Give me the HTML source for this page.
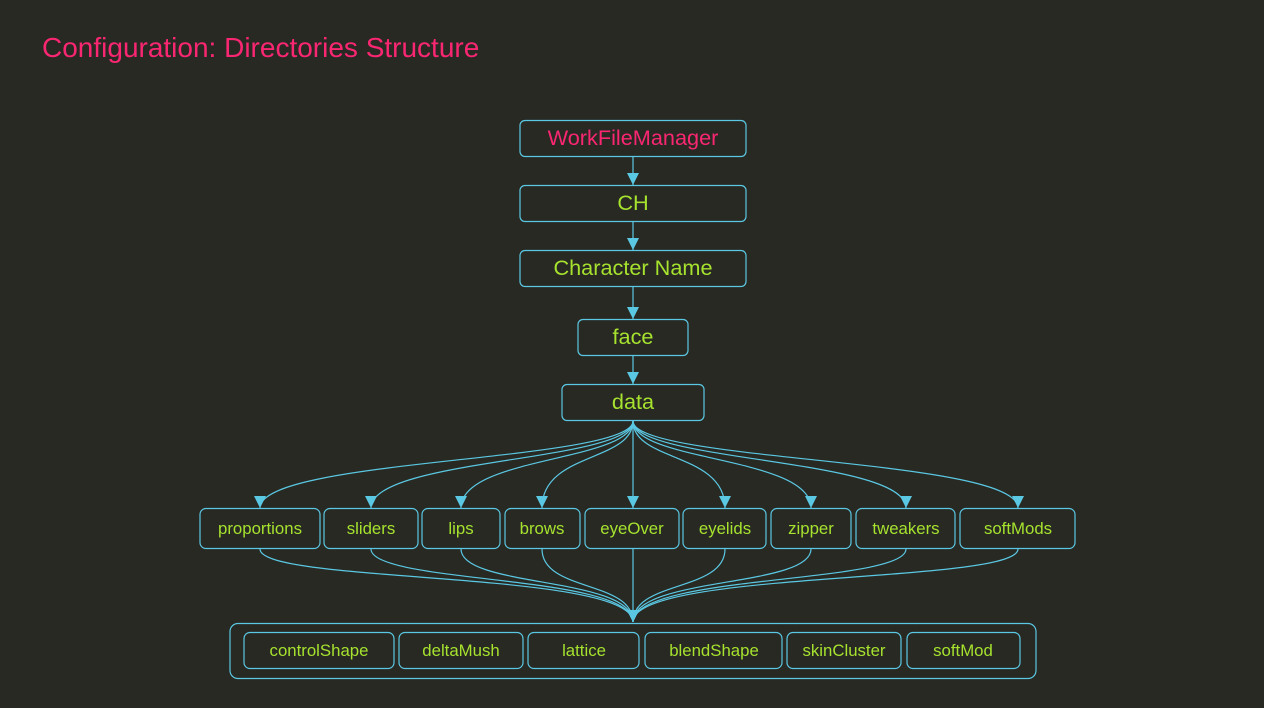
<!DOCTYPE html>
<html><head><meta charset="utf-8"><style>
html,body{margin:0;padding:0;background:#282923;}
svg{display:block;}
text{font-family:"Liberation Sans",sans-serif;}
</style></head><body>
<svg width="1264" height="708" viewBox="0 0 1264 708" xmlns="http://www.w3.org/2000/svg">
<defs>
<marker id="a" viewBox="0 0 12 12" refX="12" refY="6" markerWidth="12" markerHeight="12" markerUnits="userSpaceOnUse" orient="auto">
<path d="M0,0 L12,6 L0,12 z" fill="#5bc8e3"/></marker>
</defs>
<rect width="1264" height="708" fill="#282923"/>
<text x="42" y="57" font-size="28" fill="#f92672">Configuration: Directories Structure</text>
<g fill="none" stroke="#5bc8e3" stroke-width="1.2">
<rect x="520" y="120.5" width="226" height="36" rx="5"/>
<rect x="520" y="185.5" width="226" height="36" rx="5"/>
<rect x="520" y="250.5" width="226" height="36" rx="5"/>
<rect x="578" y="319.5" width="110" height="36" rx="5"/>
<rect x="562" y="384.5" width="142" height="36" rx="5"/>
<rect x="200" y="508.5" width="120" height="40" rx="6"/>
<rect x="324" y="508.5" width="94" height="40" rx="6"/>
<rect x="422" y="508.5" width="78" height="40" rx="6"/>
<rect x="505" y="508.5" width="75" height="40" rx="6"/>
<rect x="585" y="508.5" width="94" height="40" rx="6"/>
<rect x="683" y="508.5" width="83" height="40" rx="6"/>
<rect x="771" y="508.5" width="80" height="40" rx="6"/>
<rect x="856" y="508.5" width="99" height="40" rx="6"/>
<rect x="960" y="508.5" width="115" height="40" rx="6"/>
<rect x="230" y="623.5" width="806" height="55" rx="8"/>
<rect x="244" y="632.5" width="150" height="36" rx="6"/>
<rect x="399" y="632.5" width="124" height="36" rx="6"/>
<rect x="528" y="632.5" width="111" height="36" rx="6"/>
<rect x="645" y="632.5" width="137" height="36" rx="6"/>
<rect x="787" y="632.5" width="114" height="36" rx="6"/>
<rect x="907" y="632.5" width="113" height="36" rx="6"/>
<path d="M633,157 V185" marker-end="url(#a)"/>
<path d="M633,222 V250" marker-end="url(#a)"/>
<path d="M633,287 V319" marker-end="url(#a)"/>
<path d="M633,356 V384" marker-end="url(#a)"/>
<path d="M633,421 C633,462 260,458 260,508" marker-end="url(#a)"/>
<path d="M633,421 C633,462 371,458 371,508" marker-end="url(#a)"/>
<path d="M633,421 C633,462 461,456 461,508" marker-end="url(#a)"/>
<path d="M633,421 C633,462 542,452 542,508" marker-end="url(#a)"/>
<path d="M633,421 V508" marker-end="url(#a)"/>
<path d="M633,421 C633,462 725,452 725,508" marker-end="url(#a)"/>
<path d="M633,421 C633,462 811,456 811,508" marker-end="url(#a)"/>
<path d="M633,421 C633,462 906,458 906,508" marker-end="url(#a)"/>
<path d="M633,421 C633,462 1018,458 1018,508" marker-end="url(#a)"/>
<path d="M260,549 C260,584 633,570 633,622" marker-end="url(#a)"/>
<path d="M371,549 C371,584 633,574 633,622" marker-end="url(#a)"/>
<path d="M461,549 C461,588 633,576 633,622" marker-end="url(#a)"/>
<path d="M542,549 C542,592 633,580 633,622" marker-end="url(#a)"/>
<path d="M633,549 V622" marker-end="url(#a)"/>
<path d="M725,549 C725,592 633,580 633,622" marker-end="url(#a)"/>
<path d="M811,549 C811,588 633,576 633,622" marker-end="url(#a)"/>
<path d="M906,549 C906,584 633,574 633,622" marker-end="url(#a)"/>
<path d="M1018,549 C1018,584 633,570 633,622" marker-end="url(#a)"/>
</g>
<g font-size="21.7" fill="#a6e22e" text-anchor="middle">
<text x="633" y="145" fill="#f92672">WorkFileManager</text>
<text x="633" y="210">CH</text>
<text x="633" y="275">Character Name</text>
<text x="633" y="344">face</text>
<text x="633" y="409">data</text>
</g>
<g font-size="16.8" fill="#a6e22e" text-anchor="middle">
<text x="260" y="534">proportions</text>
<text x="371" y="534">sliders</text>
<text x="461" y="534">lips</text>
<text x="542" y="534">brows</text>
<text x="632" y="534">eyeOver</text>
<text x="725" y="534">eyelids</text>
<text x="811" y="534">zipper</text>
<text x="906" y="534">tweakers</text>
<text x="1018" y="534">softMods</text>
<text x="319" y="656">controlShape</text>
<text x="461" y="656">deltaMush</text>
<text x="584" y="656">lattice</text>
<text x="714" y="656">blendShape</text>
<text x="844" y="656">skinCluster</text>
<text x="963" y="656">softMod</text>
</g>
</svg>
</body></html>
